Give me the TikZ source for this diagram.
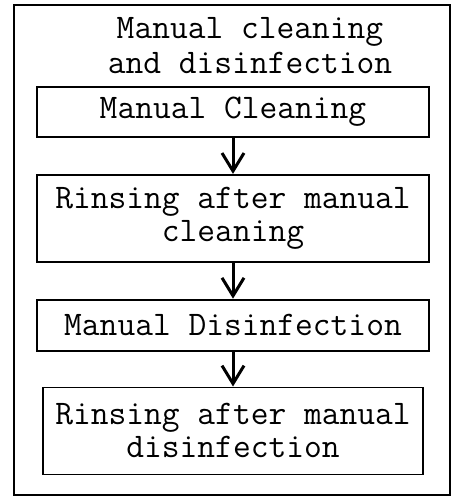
\documentclass[tikz,border=0pt]{standalone}
\usepackage{fontspec}
\usetikzlibrary{positioning,arrows.meta}
\tikzset{
  stagebox/.style={draw, line width=1.8pt, align=center, minimum width=392pt, inner sep=0pt},
  flow/.style={-{Straight Barb[length=18pt,width=22pt,line width=3pt]}, line width=3pt},
}

\begin{document}
\begin{tikzpicture}[x=1pt, y=-1pt, node distance=36pt, font=\ttfamily\fontsize{34.5}{33}\selectfont]
    \useasboundingbox (0,0) rectangle (456,497);
    % Frame and title
    \node [draw, line width=2.6pt, minimum width=436pt, minimum height=490pt] (frame) at (232,250) {};
    \node [align=center, inner sep=0pt] (title) at (250,46) {Manual cleaning\\[2pt]and disinfection};

    % Stages
    \node [stagebox, minimum height=50pt] (clean) at (233,112) {Manual Cleaning};
    \node [stagebox, minimum height=87pt, below=of clean] (rinseclean) {Rinsing after manual\\cleaning};
    \node [stagebox, minimum height=51pt, below=of rinseclean] (disinf) {Manual Disinfection};
    \node [stagebox, minimum width=380pt, minimum height=87pt, below=35pt of disinf] (rinsedisinf) {Rinsing after manual\\disinfection};

    % Connectors
    \draw [flow] (clean) -- (rinseclean);
    \draw [flow] (rinseclean) -- (disinf);
    \draw [flow] (disinf) -- (rinsedisinf);
\end{tikzpicture}
\end{document}
